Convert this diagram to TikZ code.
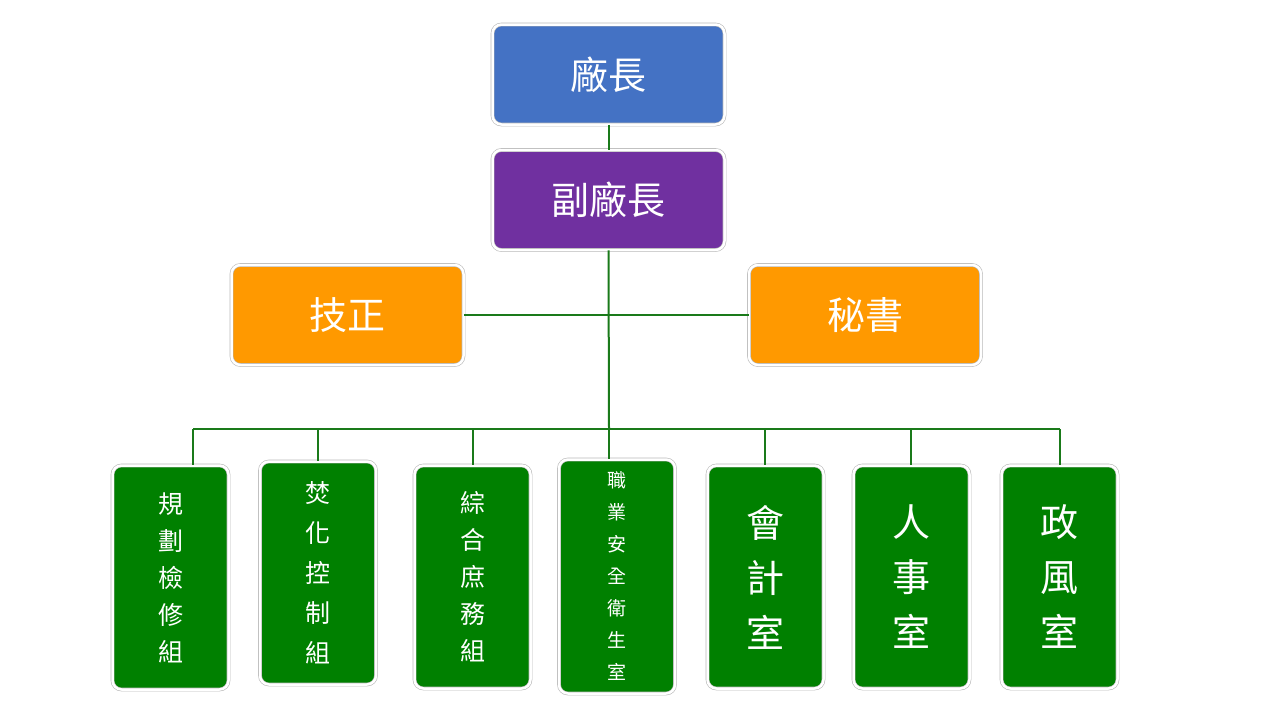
\documentclass[tikz,border=0pt]{standalone}
\usepackage{fontspec}
\newfontfamily\cjk{Noto Sans CJK TC}
\begin{document}
\begin{tikzpicture}[x=1pt,y=-1pt,
 box/.style={rounded corners=9pt,draw=gray!55,double=white,double distance=2.5pt,line width=0.6pt,text=white,align=center,inner sep=0pt},
 big/.style={box,minimum width=232pt,minimum height=100pt,font=\cjk\fontsize{38}{40}\selectfont},
 low/.style={box,minimum width=116pt,font=\cjk},
 ln/.style={draw={rgb,255:red,26;green,122;blue,26},line width=2pt}]
\definecolor{cb}{HTML}{4472C4}\definecolor{cp}{HTML}{7030A0}\definecolor{co}{HTML}{FF9900}\definecolor{cg}{HTML}{008000}
\useasboundingbox (0,0) rectangle (1280,720);
\node[big,fill=cb] (a) at (608.5,74.5) {廠長};
\node[big,fill=cp] (b) at (608.5,200) {副廠長};
\node[big,fill=co] (c) at (347.5,315) {技正};
\node[big,fill=co] (d) at (865,315) {秘書};
\coordinate (j) at (609,315);
\coordinate (k) at (609,429);
\coordinate (l) at (193,429);
\coordinate (r) at (1060,429);
\path[ln] (a) -- (b);
\path[ln] (b.south) -- (k);
\path[ln] (c.east) -- (d.west);
\path[ln] (l) -- (r);
\node[low,fill=cg,minimum height=224pt,font=\cjk\fontsize{25}{37}\selectfont] (n1) at (170.5,577.5) {規\\劃\\檢\\修\\組};
\node[low,fill=cg,minimum height=223pt,font=\cjk\fontsize{25}{40}\selectfont] (n2) at (318,573) {焚\\化\\控\\制\\組};
\node[low,fill=cg,minimum height=223pt,font=\cjk\fontsize{25}{37}\selectfont] (n3) at (472.5,577) {綜\\合\\庶\\務\\組};
\node[low,fill=cg,minimum height=234pt,font=\cjk\fontsize{19}{32}\selectfont] (n4) at (617,576.5) {職\\業\\安\\全\\衛\\生\\室};
\node[low,fill=cg,minimum height=223pt,font=\cjk\fontsize{38}{55}\selectfont] (n5) at (765.5,577) {會\\計\\室};
\node[low,fill=cg,minimum height=223pt,font=\cjk\fontsize{38}{55}\selectfont] (n6) at (911.5,577) {人\\事\\室};
\node[low,fill=cg,minimum height=223pt,font=\cjk\fontsize{38}{55}\selectfont] (n7) at (1059.5,577) {政\\風\\室};
\coordinate (t1) at (193,429);\coordinate (t2) at (318,429);\coordinate (t3) at (473,429);
\coordinate (t5) at (765,429);\coordinate (t6) at (911,429);\coordinate (t7) at (1060,429);
\path[ln] (t1) -- (n1.north -| t1);
\path[ln] (t2) -- (n2.north);
\path[ln] (t3) -- (n3.north -| t3);
\path[ln] (k) -- (n4.north -| k);
\path[ln] (t5) -- (n5.north -| t5);
\path[ln] (t6) -- (n6.north -| t6);
\path[ln] (t7) -- (n7.north -| t7);
\end{tikzpicture}
\end{document}
